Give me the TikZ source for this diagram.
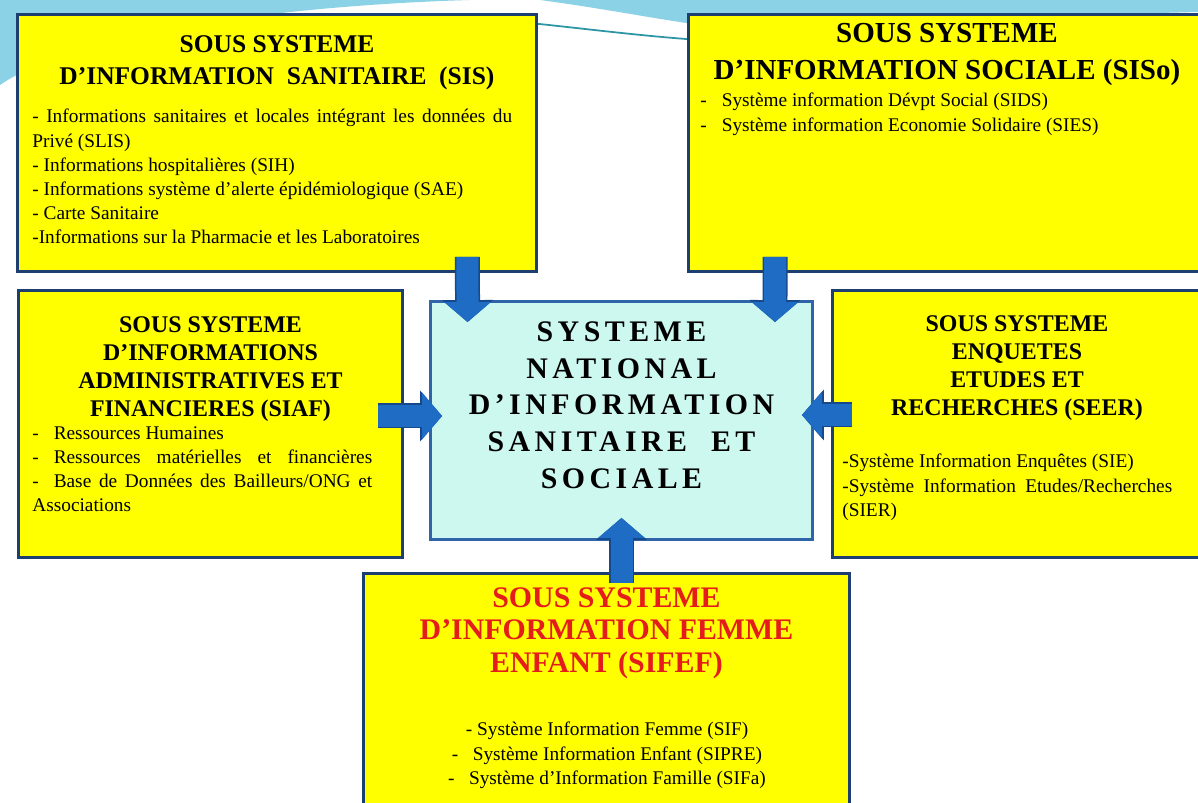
\documentclass[tikz,border=0pt]{standalone}
\usepackage{fontspec}
\setmainfont{Liberation Serif}
\newfontfamily\espace[Ligatures=TeX, LetterSpace=15]{Liberation Serif}
\usepackage{tikz}
\definecolor{jaune}{RGB}{255,255,0}
\definecolor{bordbox}{RGB}{28,62,112}
\definecolor{cyanclair}{RGB}{204,248,240}
\definecolor{bordcentre}{RGB}{47,100,168}
\definecolor{flechebleu}{RGB}{30,108,196}
\definecolor{flechebord}{RGB}{22,72,140}
\definecolor{rougetitre}{RGB}{228,28,28}
\definecolor{vague}{RGB}{140,210,230}
\definecolor{vaguetrait}{RGB}{45,150,165}
\usetikzlibrary{arrows.meta,calc,positioning}

\begin{document}
\begin{tikzpicture}[x=0.02cm, y=-0.02cm,
    box/.style={rectangle, draw=bordbox, line width=1.7pt, fill=jaune, inner sep=0pt, outer sep=0pt},
    titre/.style={align=center, inner sep=0pt, anchor=north},
    corps/.style={font=\fontsize{11}{13.7}\selectfont, align=justify, inner sep=0pt, anchor=north west},
    fleche/.style={line width=0.44cm, draw=flechebleu, -{Triangle[length=0.4cm 0, width=0.94cm 0, line width=0pt 0]},
        preaction={draw=flechebord, line width=0.5cm, -{Triangle[length=0.44cm 0, width=1.02cm 0, line width=0pt 0]}}}
]
    \useasboundingbox (0,0) rectangle (1198,803);
    \fill[white] (0,0) rectangle (1198,803);

    % Bandeau du haut
    \fill[vague] (0,0) -- (470,0) .. controls (300,5) and (80,30) .. (0,85) -- cycle;
    \fill[vague] (540,0) .. controls (600,8) and (650,18) .. (700,25) -- (1198,12) -- (1198,0) -- cycle;
    \draw[vaguetrait, line width=1pt] (520,22) .. controls (580,28) and (640,36) .. (700,40);

    % Cadres
    \node[box, minimum width=10.4cm, minimum height=5.16cm] (sis) at (277,143) {};
    \node[box, minimum width=10.36cm, minimum height=5.16cm] (siso) at (947,143) {};
    \node[box, minimum width=7.7cm, minimum height=5.36cm] (siaf) at (210.5,424) {};
    \node[box, minimum width=7.48cm, minimum height=5.36cm] (seer) at (1019,424) {};
    \node[box, minimum width=9.74cm, minimum height=4.84cm] (sifef) at (606.5,694) {};
    \node[box, draw=bordcentre, fill=cyanclair,
          minimum width=7.66cm, minimum height=4.78cm] (snis) at (621.5,420.5) {};

    % Fleches
    \draw[fleche] ($(sis.south east)+(-69.5,-15)$) -- ($(snis.north west)+(37.5,21)$);
    \draw[fleche] ($(siso.south west)+(87,-15)$) -- ($(snis.north east)+(-38,21)$);
    \draw[fleche] ($(siaf.east)+(-25,-8)$) -- ($(snis.west)+(12,-4.5)$);
    \draw[fleche] ($(seer.west)+(20,-9)$) -- ($(snis.east)+(-11,-5.5)$);
    \draw[fleche] ($(sifef.north)+(15,10)$) -- ($(snis.south)+(0,-22)$);

    % Sanitaire
    \node[titre, font=\fontsize{14.5}{18.5}\selectfont\bfseries] (sistitre) at (277,35)
        {SOUS SYSTEME\\D’INFORMATION\ \ SANITAIRE\ \ (SIS)};
    \node[corps, text width=9.6cm] (siscorps) at (32,109)
        {- Informations sanitaires et locales intégrant les données du Privé (SLIS)\\
         - Informations hospitalières (SIH)\\
         - Informations système d’alerte épidémiologique (SAE)\\
         - Carte Sanitaire\\
         -Informations sur la Pharmacie et les Laboratoires};

    % Sociale
    \node[titre, font=\fontsize{16.5}{21}\selectfont\bfseries] (sisotitre) at (947,23)
        {SOUS SYSTEME\\D’INFORMATION SOCIALE (SISo)};
    \node[corps, align=left] (sisocorps) at (700,93)
        {-\hspace{0.3cm}Système information Dévpt Social (SIDS)\\
         -\hspace{0.3cm}Système information Economie Solidaire (SIES)};

    % Administratives et financieres
    \node[titre, font=\fontsize{13.6}{16}\selectfont\bfseries] (siaftitre) at (210.5,316)
        {SOUS SYSTEME\\D’INFORMATIONS\\ADMINISTRATIVES ET\\FINANCIERES (SIAF)};
    \node[corps, text width=6.8cm] (siafcorps) at (32,426)
        {-\hspace{0.3cm}Ressources Humaines\\
         -\hspace{0.3cm}Ressources matérielles et financières\linebreak
         -\hspace{0.3cm}Base de Données des Bailleurs/ONG et Associations};

    % Enquetes
    \node[titre, font=\fontsize{13.6}{16}\selectfont\bfseries] (seertitre) at (1017,315)
        {SOUS SYSTEME\\ENQUETES\\ETUDES ET\\RECHERCHES (SEER)};
    \node[corps, text width=6.6cm] (seercorps) at (842,454)
        {-Système Information Enquêtes (SIE)\\
         -Système Information Etudes/Recherches (SIER)};

    % Femme enfant
    \node[titre, font=\fontsize{17}{18.5}\selectfont\bfseries, text=rougetitre] (sifeftitre) at (606.5,587)
        {SOUS SYSTEME\\D’INFORMATION FEMME\\ENFANT (SIFEF)};
    \node[titre, font=\fontsize{11}{13.9}\selectfont] (sifefcorps) at (607,722)
        {- Système Information Femme (SIF)\\
         -\ \ \ Système Information Enfant (SIPRE)\\
         -\ \ \ Système d’Information Famille (SIFa)};

    % Systeme national
    \node[titre, font=\espace\fontsize{17}{21}\selectfont\bfseries] (snistexte) at (621.5,321)
        {SYSTEME\\NATIONAL\\D’INFORMATION\\SANITAIRE\ \ ET\\SOCIALE};
\end{tikzpicture}
\end{document}
